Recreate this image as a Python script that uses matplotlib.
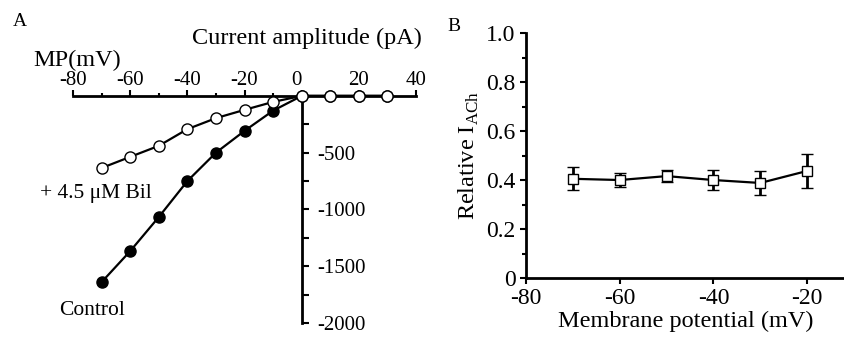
import numpy as np
import matplotlib
matplotlib.use("Agg")
import matplotlib.pyplot as plt
from matplotlib.ticker import MultipleLocator

plt.rcParams['font.family'] = ['Liberation Serif', 'DejaVu Serif']
plt.rcParams['mathtext.fontset'] = 'custom'
plt.rcParams['mathtext.rm'] = 'Liberation Serif'
plt.rcParams['axes.unicode_minus'] = False

# panel A: I-V curves
mp = [-70, -60, -50, -40, -30, -20, -10, 0, 10, 20, 30]
control = [-1640, -1367, -1067, -750, -500, -308, -130, 0, 0, 0, 0]
bil = [-635, -537, -440, -293, -196, -123, -53, 0, 0, 0, 0]

# panel B: relative I_ACh
mp_b = [-70, -60, -50, -40, -30, -20]
rel = [0.405, 0.400, 0.416, 0.400, 0.388, 0.437]
rel_err = [0.047, 0.028, 0.025, 0.040, 0.048, 0.068]

fig = plt.figure(figsize=(8.45, 3.37), dpi=100)

# ============ panel A ============
ax = fig.add_axes([0.0864, 0.0415, 0.406, 0.674])
ax.plot(mp, control, '-o', color='black', lw=1.6, ms=8, mfc='black', mec='black', clip_on=False, zorder=3)
ax.plot(mp, bil, '-o', color='black', lw=1.6, ms=8, mfc='white', mec='black', mew=1.0, clip_on=False, zorder=4)
ax.set_xlim(-80, 40)
ax.set_ylim(-2000, 0)

ax.spines['top'].set_position(('data', 0))
ax.spines['right'].set_position(('data', 0))
ax.spines['bottom'].set_visible(False)
ax.spines['left'].set_visible(False)
for s in ('top', 'right'):
    ax.spines[s].set_linewidth(2)
ax.xaxis.set_ticks_position('top')
ax.yaxis.set_ticks_position('right')
ax.set_xticks([-80, -60, -40, -20, 0, 20, 40])
ax.set_xticklabels(['-80', '-60', '-40', '-20', '0', '20', '40'])
ax.xaxis.set_minor_locator(MultipleLocator(10))
ax.set_yticks([-2000, -1500, -1000, -500])
ax.set_yticklabels(['-2000', '-1500', '-1000', '-500'])
ax.yaxis.set_minor_locator(MultipleLocator(250))
ax.tick_params(axis='x', which='major', direction='out', length=4, width=1.5, labelsize=15, pad=0)
ax.tick_params(axis='x', which='minor', direction='out', length=2, width=1.5)
ax.tick_params(axis='y', which='major', direction='out', length=5, width=1.5, labelsize=15, pad=6)
ax.tick_params(axis='y', which='minor', direction='out', length=5, width=1.5)
for t in ax.get_xticklabels():
    if t.get_text() == '0':
        t.set_horizontalalignment('right')

fig.text(0.015, 0.935, 'A', fontsize=14, va='center')
fig.text(0.363, 0.885, 'Current amplitude (pA)', fontsize=17.5, ha='center', va='center')
fig.text(0.039, 0.822, 'MP(mV)', fontsize=17.5, ha='left', va='center')
ax.text(-91.5, -860, '+ 4.5 μM Bil', fontsize=15.5, ha='left', va='center')
ax.text(-85, -1890, 'Control', fontsize=15.5, ha='left', va='center')

# ============ panel B ============
bx = fig.add_axes([0.6225, 0.175, 0.377, 0.727])
bx.errorbar(mp_b, rel, yerr=rel_err, fmt='-s', color='black', lw=1.6, ms=7, mfc='white', mec='black',
            mew=1.0, ecolor='black', elinewidth=2, capsize=4, capthick=2, zorder=3)
bx.set_xlim(-80, -12)
bx.set_ylim(0, 1.0)
bx.spines['top'].set_visible(False)
bx.spines['right'].set_visible(False)
bx.spines['left'].set_linewidth(2)
bx.spines['bottom'].set_linewidth(2)
bx.set_xticks([-80, -60, -40, -20])
bx.set_yticks([0, 0.2, 0.4, 0.6, 0.8, 1.0])
bx.set_yticklabels(['0', '0.2', '0.4', '0.6', '0.8', '1.0'])
bx.yaxis.set_minor_locator(MultipleLocator(0.1))
bx.tick_params(axis='both', which='major', direction='out', length=4, width=1.5, labelsize=17)
bx.tick_params(axis='y', which='minor', direction='out', length=3, width=1.5)
bx.set_xlabel('Membrane potential (mV)', fontsize=17.5, labelpad=1)
bx.set_ylabel(r'Relative I$_{\mathrm{ACh}}$', fontsize=17.5, labelpad=4)

fig.text(0.529, 0.92, 'B', fontsize=14, va='center')

fig.savefig('out.png', dpi=100)
